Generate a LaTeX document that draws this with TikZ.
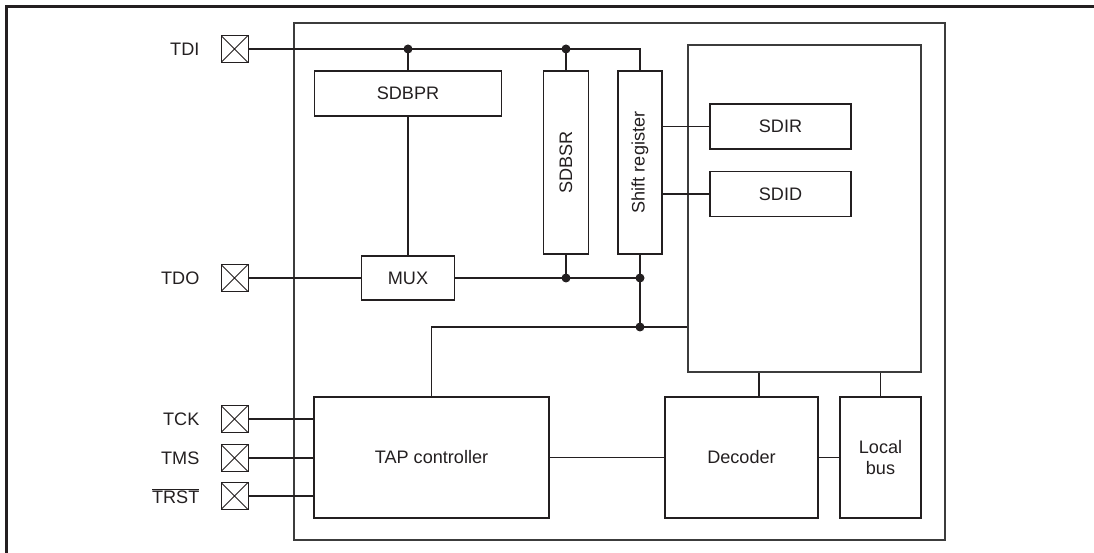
\documentclass[tikz,border=0pt]{standalone}
\usepackage{fontspec}
\setmainfont{Liberation Sans}
\usepackage{tikz}
\usetikzlibrary{positioning,calc}
\definecolor{Tinta}{HTML}{231F20}
\definecolor{Marco}{HTML}{3C3C3C}

\begin{document}
\begin{tikzpicture}[
  font=\fontsize{10.3}{12.4}\selectfont,
  text=Tinta,
  bloque/.style={draw=Tinta,line width=1.1pt,inner sep=0pt,align=center},
  caja/.style={draw=Marco,line width=0.6pt,inner sep=0pt},
  pad/.style={draw=Tinta,line width=0.5pt,minimum size=0.54cm,inner sep=0pt,
    path picture={\draw[line width=0.5pt]
      (path picture bounding box.south west)--(path picture bounding box.north east)
      (path picture bounding box.north west)--(path picture bounding box.south east);}},
  linea/.style={draw=Tinta,line width=0.6pt}
]
  \useasboundingbox (0,0) rectangle (21.88,11.06);
  \draw[Tinta,line width=1.4pt] (0.13,0) -- (0.13,10.93) -- (21.88,10.93);

  \node[caja,minimum width=13.02cm,minimum height=10.34cm] (chip) at (12.39,5.43) {};
  \node[caja,minimum width=4.66cm,minimum height=6.54cm] (regblk) at (16.09,6.89) {};

  \node[pad] (tdi) at (4.69,10.08) {};
  \node[pad] (tdo) at (4.69,5.50) {};
  \node[pad] (tck) at (4.69,2.68) {};
  \node[pad] (tms) at (4.69,1.90) {};
  \node[pad] (trst) at (4.69,1.14) {};
  \node[left=0.3cm of tdi] (tdiname) {TDI};
  \node[left=0.3cm of tdo] (tdoname) {TDO};
  \node[left=0.3cm of tck] (tckname) {TCK};
  \node[left=0.3cm of tms] (tmsname) {TMS};
  \node[left=0.3cm of trst] (trstname) {\(\overline{\hbox{TRST}}\)};

  \node[bloque,minimum width=3.74cm,minimum height=0.90cm] (sdbpr) at (8.16,9.19) {SDBPR};
  \node[bloque,minimum width=0.90cm,minimum height=3.66cm] (sdbsr) at (11.32,7.81)
    {\rotatebox{90}{SDBSR}};
  \node[bloque,minimum width=0.88cm,minimum height=3.66cm] (shift) at (12.80,7.81)
    {\rotatebox{90}{Shift register}};
  \node[bloque,minimum width=1.86cm,minimum height=0.88cm] (mux) at (8.16,5.50) {MUX};
  \node[bloque,minimum width=2.82cm,minimum height=0.90cm] (sdir) at (15.61,8.53) {SDIR};
  \node[bloque,minimum width=2.82cm,minimum height=0.90cm] (sdid) at (15.61,7.18) {SDID};
  \node[bloque,minimum width=4.70cm,minimum height=2.42cm] (tap) at (8.63,1.91) {TAP controller};
  \node[bloque,minimum width=3.06cm,minimum height=2.42cm] (decoder) at (14.83,1.91) {Decoder};
  \node[bloque,minimum width=1.62cm,minimum height=2.42cm] (lbus) at (17.61,1.91) {Local\\bus};

  \coordinate (jbpr) at (sdbpr.north |- tdi);
  \coordinate (jbsr) at (sdbsr.north |- tdi);
  \coordinate (jbsro) at (sdbsr.south |- mux);
  \coordinate (jout) at (shift.south |- mux);
  \coordinate (jtap) at (12.80,4.52);

  \draw[linea] (tdi.east) -- (jbpr) -- (jbsr) -| (shift.north);
  \draw[linea] (jbpr) -- (sdbpr.north);
  \draw[linea] (jbsr) -- (sdbsr.north);
  \draw[linea] (sdbpr.south) -- (mux.north);
  \draw[linea] (tdo.east) -- (mux.west);
  \draw[linea] (mux.east) -- (jout);
  \draw[linea] (sdbsr.south) -- (jbsro);
  \draw[linea] (shift.south) -- (jout) -- (jtap);
  \draw[linea] (regblk.west |- jtap) -- (jtap) -| (tap.north);
  \draw[linea] (shift.east |- sdir) -- (sdir.west);
  \draw[linea] (shift.east |- sdid) -- (sdid.west);
  \foreach \p in {tck,tms,trst}
    \draw[linea] (\p.east) -- (tap.west |- \p);
  \draw[linea] (tap.east) -- (decoder.west);
  \draw[linea] (decoder.east) -- (lbus.west);
  \draw[linea] ([xshift=0.35cm]decoder.north) -- ([xshift=0.35cm]decoder.north |- regblk.south);
  \draw[linea] (lbus.north) -- (lbus.north |- regblk.south);
  \foreach \j in {jbpr,jbsr,jbsro,jout,jtap}
    \fill[Tinta] (\j) circle (0.09);
\end{tikzpicture}
\end{document}
